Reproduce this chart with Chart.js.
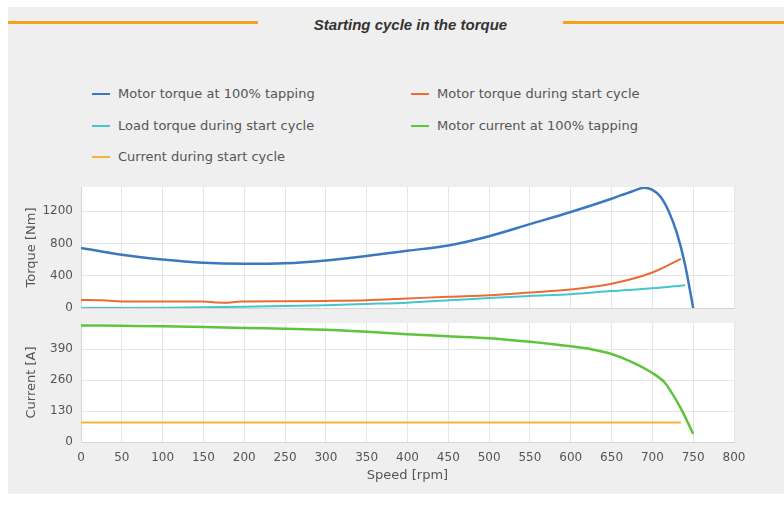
<!DOCTYPE html>
<html>
<head>
<meta charset="utf-8">
<script src="https://cdn.jsdelivr.net/npm/chart.js@4.4.0/dist/chart.umd.min.js"></script>
<style>
  body { margin: 0; width: 784px; height: 520px; background: #fff; position: relative; overflow: hidden; font-family: "DejaVu Sans", sans-serif; }
  #panel { position: absolute; left: 8px; top: 7px; width: 776px; height: 487px; background: #efefef; }
  .rule { position: absolute; top: 21px; height: 3px; background: #f5a21e; }
  #titulo { position: absolute; top: 16px; left: 258px; width: 305px; text-align: center; font: italic bold 15px "Liberation Sans", Arial, sans-serif; color: #333; }
  .leg { position: absolute; font-size: 13px; line-height: 16px; color: #555; white-space: nowrap; }
  .leg i { display: inline-block; width: 18px; height: 2px; vertical-align: middle; margin-right: 8px; position: relative; top: -1px; }
  canvas { position: absolute; left: 0; }
</style>
</head>
<body>
<div id="panel"></div>
<div class="rule" style="left:8px;width:250px"></div>
<div class="rule" style="left:563px;width:221px"></div>
<div id="titulo">Starting cycle in the torque</div>
<div id="legenda"></div>
<canvas id="graficoTorque" width="784" height="145" style="top:170px"></canvas>
<canvas id="graficoCorrente" width="784" height="205" style="top:315px"></canvas>
<script>
// === Dados ===
const velMotor = [0, 50, 100, 150, 200, 250, 300, 350, 400, 450, 500, 550, 600, 650, 675, 690, 700, 710, 720, 730, 740, 750];
const torqueMotor = [745, 660, 600, 560, 548, 555, 590, 645, 710, 775, 890, 1040, 1190, 1355, 1445, 1490, 1465, 1380, 1200, 930, 540, 0];

const velPartida = [0, 25, 50, 100, 150, 165, 180, 195, 250, 300, 350, 400, 450, 500, 550, 600, 650, 700, 735];
const torquePartida = [100, 95, 82, 80, 80, 68, 66, 82, 85, 88, 96, 118, 140, 158, 192, 229, 300, 440, 608];

const velCarga = [0, 50, 100, 150, 200, 250, 300, 350, 400, 450, 500, 550, 600, 650, 700, 740];
const torqueCarga = [0, 0, 2, 10, 15, 25, 35, 50, 66, 95, 125, 150, 171, 210, 245, 283];

const velCorrente = [0, 50, 100, 150, 200, 250, 300, 350, 400, 450, 500, 550, 600, 625, 650, 675, 700, 715, 725, 735, 742, 750];
const correnteMotor = [490, 488, 486, 483, 479, 476, 472, 463, 453, 444, 436, 421, 402, 390, 370, 336, 290, 250, 200, 140, 92, 34];

const velCorrentePartida = [0, 735];
const correntePartida = [82, 82];

const ticksVel = [0, 50, 100, 150, 200, 250, 300, 350, 400, 450, 500, 550, 600, 650, 700, 750, 800];
const ticksTorque = [0, 400, 800, 1200];
const ticksCorrente = [0, 130, 260, 390];

const cores = { motor: "#3b78c0", partida: "#ec6a35", carga: "#45c5cc", corrente: "#5ec43c", correntePartida: "#f7b338" };

const series = [
  { nome: "Motor torque at 100% tapping", cor: cores.motor, col: 0, lin: 0 },
  { nome: "Motor torque during start cycle", cor: cores.partida, col: 1, lin: 0 },
  { nome: "Load torque during start cycle", cor: cores.carga, col: 0, lin: 1 },
  { nome: "Motor current at 100% tapping", cor: cores.corrente, col: 1, lin: 1 },
  { nome: "Current during start cycle", cor: cores.correntePartida, col: 0, lin: 2 }
];

// legenda em html
const legenda = document.getElementById("legenda");
const linhasY = [86, 118, 149];
series.forEach(s => {
  const d = document.createElement("div");
  d.className = "leg";
  d.style.left = (s.col === 0 ? 92 : 411) + "px";
  d.style.top = linhasY[s.lin] + "px";
  d.innerHTML = `<i style="background:${s.cor}"></i>${s.nome}`;
  legenda.appendChild(d);
});

function pontos(xs, ys) {
  return xs.map((x, i) => ({ x, y: ys[i] }));
}

function serie(xs, ys, cor, largura) {
  return {
    data: pontos(xs, ys),
    borderColor: cor,
    borderWidth: largura,
    pointRadius: 0,
    fill: false,
    cubicInterpolationMode: "monotone"
  };
}

// fundo branco da area do grafico
const fundoBranco = {
  id: "fundoBranco",
  beforeDraw(chart) {
    const { ctx, chartArea: a } = chart;
    ctx.save();
    ctx.fillStyle = "#fff";
    ctx.fillRect(a.left, a.top, a.right - a.left, a.bottom - a.top);
    ctx.restore();
  }
};

const corTexto = "#555";
const corGrade = "#e6e6e6";

function eixoX(mostrarTicks) {
  return {
    type: "linear",
    min: 0,
    max: 800,
    afterBuildTicks: s => { s.ticks = ticksVel.map(v => ({ value: v })); },
    afterFit: s => { s.height = mostrarTicks ? 45 : 0; s.paddingLeft = 0; s.paddingRight = 0; },
    grid: { color: corGrade, drawTicks: false },
    border: { color: "#d6d6d6" },
    ticks: { display: mostrarTicks, padding: 9, color: corTexto, font: { family: "DejaVu Sans", size: 12 }, maxRotation: 0, callback: v => String(v) },
    title: { display: mostrarTicks, text: "Speed [rpm]", color: corTexto, font: { family: "DejaVu Sans", size: 13 }, padding: { top: 0, bottom: 4 } }
  };
}

function eixoY(min, max, ticks, titulo) {
  return {
    min, max,
    afterBuildTicks: s => { s.ticks = ticks.map(v => ({ value: v })); },
    afterFit: s => { s.width = 61; s.paddingTop = 0; s.paddingBottom = 0; },
    grid: { color: corGrade, drawTicks: false },
    border: { color: "#d6d6d6" },
    ticks: { padding: 8, color: corTexto, font: { family: "DejaVu Sans", size: 12 }, callback: v => String(v) },
    title: { display: true, text: titulo, color: corTexto, font: { family: "DejaVu Sans", size: 13 }, padding: { top: 4, bottom: 0 } }
  };
}

const opcoesBase = {
  responsive: false,
  animation: false,
  plugins: { legend: { display: false }, tooltip: { enabled: false } }
};

// === Grafico de torque ===
new Chart(document.getElementById("graficoTorque"), {
  type: "line",
  data: {
    datasets: [
      serie(velCarga, torqueCarga, cores.carga, 2),
      serie(velPartida, torquePartida, cores.partida, 2),
      serie(velMotor, torqueMotor, cores.motor, 2.5)
    ]
  },
  options: {
    ...opcoesBase,
    layout: { padding: { left: 20, right: 50, top: 17, bottom: 7 } },
    scales: { x: eixoX(false), y: eixoY(0, 1500, ticksTorque, "Torque [Nm]") }
  },
  plugins: [fundoBranco]
});

// === Grafico de corrente ===
new Chart(document.getElementById("graficoCorrente"), {
  type: "line",
  data: {
    datasets: [
      serie(velCorrentePartida, correntePartida, cores.correntePartida, 2),
      serie(velCorrente, correnteMotor, cores.corrente, 2.5)
    ]
  },
  options: {
    ...opcoesBase,
    layout: { padding: { left: 20, right: 50, top: 8, bottom: 33 } },
    scales: { x: eixoX(true), y: eixoY(0, 500, ticksCorrente, "Current [A]") }
  },
  plugins: [fundoBranco]
});
</script>
</body>
</html>
